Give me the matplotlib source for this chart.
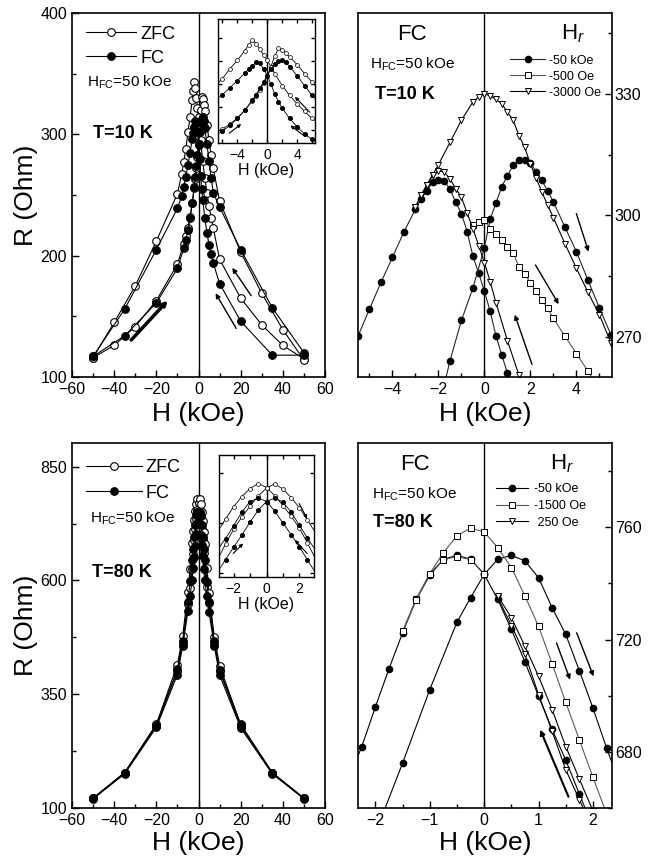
import matplotlib
matplotlib.use('Agg')
import matplotlib.pyplot as plt
from matplotlib.ticker import MultipleLocator, FixedLocator

plt.rcParams['font.family'] = ['Liberation Sans', 'DejaVu Sans']
plt.rcParams['mathtext.fontset'] = 'custom'
plt.rcParams['mathtext.rm'] = 'Liberation Sans'
plt.rcParams['mathtext.it'] = 'Liberation Sans:italic'
plt.rcParams['mathtext.bf'] = 'Liberation Sans:bold'

# ---- T = 10 K, full loops (H in kOe, R in Ohm) ----
h_zfc10_dn = [-50, -40, -30, -20, -10, -8, -7, -6, -5, -4, -3, -2.5, -2, -1.5, -1, -0.5, 0, 0.5, 1, 2, 3, 4, 5, 6, 7, 10, 20, 30, 40, 50]
r_zfc10_dn = [116, 145, 175, 212, 251, 267, 277, 288, 302, 314, 328, 336, 343, 338, 330, 322, 314, 305, 295, 278, 264, 252, 241, 231, 223, 197, 165, 143, 126, 115]
h_zfc10_up = [-50, -40, -30, -20, -10, -7, -6, -5, -4, -3, -2, -1.5, -1, -0.5, 0, 0.5, 1, 1.5, 2, 2.5, 3, 4, 5, 6, 7, 10, 20, 30, 40, 50]
r_zfc10_up = [116, 126, 141.5, 163, 193, 210, 216, 223, 232, 243, 256, 263, 272, 281, 291, 305, 320, 331, 329, 324, 319, 308, 295, 283, 272, 245, 203, 169, 139, 114]
h_fc10_dn = [-50, -35, -20, -10, -8, -7, -6, -5, -4, -3, -2.5, -2, -1.5, -1, -0.5, 0, 0.5, 1, 1.5, 2, 3, 4, 5, 6, 7, 10, 20, 35, 50]
r_fc10_dn = [117, 156, 205, 239, 249, 257, 265, 275, 285, 296, 301, 306, 311, 310, 302, 292, 280, 266, 255, 246, 231, 219, 209, 201, 194, 177, 146, 118, 118]
h_fc10_up = [-50, -35, -20, -10, -7, -6, -5, -4, -3, -2, -1.5, -1, -0.5, 0, 0.5, 1, 1.5, 2, 2.5, 3, 4, 5, 6, 7, 10, 20, 35, 50]
r_fc10_up = [117, 134, 161, 189.5, 206, 213, 221, 231, 243, 257, 265, 274, 283, 292, 302, 309, 313, 314, 311, 305, 292, 278, 264, 252, 240, 205, 157, 120]

# ---- T = 10 K, FC minor loops for different reversal fields Hr ----
h_m50k_dn = [1.25, 1.0, 0.75, 0.5, 0.25, 0, -0.25, -0.5, -0.75, -1.0, -1.25, -1.5, -1.75, -2.0, -2.25, -2.5, -2.75, -3.0, -3.5, -4.0, -4.5, -5.0, -5.5]
r_m50k_dn = [255.5, 261, 265.5, 270.2, 276.2, 281.2, 285.7, 289.8, 295.9, 300.4, 303.2, 306.5, 308.4, 308.8, 308.2, 306.1, 304, 301.5, 295.9, 289.6, 283.4, 276.8, 270.1]
h_m50k_up = [-2.0, -1.5, -1.0, -0.5, 0, 0.25, 0.5, 0.75, 1.0, 1.25, 1.5, 1.75, 2.0, 2.25, 2.5, 2.75, 3.0, 3.5, 4.0, 4.5, 5.0, 5.5]
r_m50k_up = [252, 264, 274, 282, 292, 299, 303, 307, 309.8, 312.3, 313.7, 313.7, 313, 310.7, 308.6, 306, 303.3, 297.1, 291, 284, 277.1, 270.5]
h_m500_up = [-0.5, -0.25, 0, 0.25, 0.5, 0.75, 1.0, 1.25, 1.5, 1.75, 2.0, 2.25, 2.5, 2.75, 3.0, 3.5, 4.0, 4.5, 5.0]
r_m500_up = [297.5, 298.4, 298.8, 296.7, 295.3, 293.9, 292.2, 290.6, 287.3, 285.5, 283.3, 281.2, 279, 277, 274.5, 270.1, 265.8, 261.5, 257]
h_m3k_dn = [2.0, 1.5, 1.0, 0.5, 0.25, 0, -0.25, -0.5, -0.75, -1.0, -1.25, -1.5, -1.75, -2.0, -2.25, -2.5, -2.75, -3.0]
r_m3k_dn = [251, 260.5, 269, 278.4, 283.6, 288.3, 292.5, 296.7, 300.5, 304.4, 306.6, 309, 310.7, 311, 310, 307.5, 305, 302]
h_m3k_up = [-3.0, -2.75, -2.5, -2.25, -2.0, -1.5, -1.0, -0.5, -0.25, 0, 0.25, 0.5, 0.75, 1.0, 1.25, 1.5, 1.75, 2.0, 2.25, 2.5, 2.75, 3.0, 3.5, 4.0, 4.5, 5.0, 5.5]
r_m3k_up = [302, 305, 307.5, 310, 312.5, 318, 323.5, 328, 329.3, 330, 329.5, 328.7, 327.6, 325.5, 323.5, 319.7, 316.8, 312.7, 309.2, 305.7, 302.5, 299.4, 293, 286.9, 281, 275.4, 268.5]

# ---- T = 80 K, full loops ----
h80 = [-50, -35, -20, -10, -7.5, -5, -4, -3, -2.5, -2, -1.5, -1, -0.5, 0, 0.5, 1, 1.5, 2, 2.5, 3, 4, 5, 7.5, 10, 20, 35, 50]
r_zfc80_dn = [121, 178, 284, 415, 478, 575, 625, 682, 708, 733, 753, 769, 779, 771, 755, 735, 714, 690, 660, 628, 585, 550, 462, 400, 280, 176, 120]
r_zfc80_up = [120, 176, 281, 401, 463, 548, 583, 626, 658, 688, 712, 734, 754, 770, 778, 768, 751, 731, 706, 680, 627, 572, 476, 413, 283, 177, 121]
r_fc80_dn = [122, 178, 283, 405, 468, 553, 598, 646, 669, 695, 722, 743, 750, 743, 724, 700, 677, 653, 626, 600, 565, 530, 455, 392, 276, 175, 121]
r_fc80_up = [121, 175, 277, 393, 456, 532, 566, 601, 627, 652, 676, 702, 726, 743, 750, 742, 722, 696, 670, 645, 597, 552, 467, 404, 284, 178, 122]

# ---- T = 80 K, FC minor loops ----
h_m50k80_dn = [2.0, 1.75, 1.5, 1.25, 1.0, 0.75, 0.5, 0.25, 0, -0.25, -0.5, -0.75, -1.0, -1.25, -1.5, -1.75, -2.0, -2.25, -2.5]
r_m50k80_dn = [653, 665, 677, 688, 699.8, 712, 723.6, 734.3, 743.2, 748.6, 750, 748.6, 742.9, 734.3, 722.4, 709.6, 696, 681.9, 670]
h_m50k80_up = [-2.0, -1.5, -1.0, -0.5, -0.25, 0, 0.25, 0.5, 0.75, 1.0, 1.25, 1.5, 1.75, 2.0, 2.25, 2.5]
r_m50k80_up = [651, 676, 702.2, 726.2, 734.9, 743.2, 748.6, 750, 748, 742, 731.3, 721.8, 708.9, 695.6, 681.4, 668]
h_m1500_dn = [0, -0.25, -0.5, -0.75, -1.0, -1.25, -1.5]
r_m1500_dn = [743.5, 748.5, 749.5, 748.5, 743.5, 734.5, 723]
h_m1500_up = [-1.5, -1.25, -1.0, -0.75, -0.5, -0.25, 0, 0.25, 0.5, 0.75, 1.0, 1.25, 1.5, 1.75, 2.0, 2.25, 2.5]
r_m1500_up = [723, 734, 743.5, 751, 756.9, 759.7, 758.3, 752.7, 745.6, 735.5, 724.7, 711.3, 697.6, 684.3, 670.9, 658, 645]
h_p250_dn = [2.0, 1.75, 1.5, 1.25, 1.0, 0.75, 0.5, 0.25]
r_p250_dn = [652, 663, 673.6, 687.3, 700.4, 714.7, 725, 735]
h_p250_up = [0.25, 0.5, 0.75, 1.0, 1.25, 1.5, 1.75, 2.0, 2.25]
r_p250_up = [735.5, 727.8, 717.6, 706.9, 695, 681.9, 670.3, 659, 647]

# sweep direction arrows, (tail, head) in data units
arrows_10k = [((25, 167), (16, 190)), ((17.9, 140), (8.1, 169))]
arrow_10k_thick = ((-31.9, 130.5), (-14.6, 163))
arrows_10k_inset = [((5.7, 240), (3.7, 262)), ((5.1, 205), (3.1, 221)), ((-5.1, 210), (-3.5, 223))]
arrows_10k_fc = [((4.0, 300.4), (4.53, 291.0)), ((2.22, 287.7), (3.23, 278.0)), ((2.07, 263.1), (1.32, 275.4))]
arrows_80k_inset = [((1.99, 739), (2.48, 709)), ((2.48, 639), (1.73, 666)), ((-2.03, 639), (-1.43, 659))]
arrows_80k_fc = [((1.70, 722.4), (2.01, 706.9)), ((1.33, 718.8), (1.58, 705.7)), ((1.55, 664), (1.03, 687.9))]

W, H = 650, 867


def rect(x0, y0, x1, y1):
    # pixel box -> figure fraction
    return [x0 / W, 1 - y1 / H, (x1 - x0) / W, (y1 - y0) / H]


def style(ax, fs=11.5, lw=1.2):
    ax.tick_params(which='both', direction='in', labelsize=fs, width=1.0)
    ax.tick_params(which='major', length=5)
    ax.tick_params(which='minor', length=3)
    for s in ax.spines.values():
        s.set_linewidth(lw)


def arrow(ax, a, lw=1.0, ms=7):
    ax.annotate('', xy=a[1], xytext=a[0],
                arrowprops=dict(arrowstyle='-|>', color='k', lw=lw, mutation_scale=ms,
                                shrinkA=0, shrinkB=0))


zfc = dict(marker='o', mfc='white', mec='k', color='k', lw=0.8, mew=0.8)
fc = dict(marker='o', mfc='k', mec='k', color='k', lw=0.8, mew=0.8)

fig = plt.figure(figsize=(6.5, 8.67), dpi=100)

# ================= panel 1: 10 K =================
ax1 = fig.add_axes(rect(72, 13, 325, 377))
ax1.plot(h_zfc10_dn, r_zfc10_dn, ms=5.5, label='ZFC', **zfc)
ax1.plot(h_zfc10_up, r_zfc10_up, ms=5.5, **zfc)
ax1.plot(h_fc10_dn, r_fc10_dn, ms=5.5, label='FC', **fc)
ax1.plot(h_fc10_up, r_fc10_up, ms=5.5, **fc)
ax1.axvline(0, color='k', lw=1.0, zorder=0)
ax1.set_xlim(-60, 60)
ax1.set_ylim(100, 400)
ax1.xaxis.set_major_locator(MultipleLocator(20))
ax1.xaxis.set_minor_locator(MultipleLocator(10))
ax1.yaxis.set_major_locator(MultipleLocator(100))
ax1.yaxis.set_minor_locator(MultipleLocator(50))
style(ax1)
for a in arrows_10k:
    arrow(ax1, a)
arrow(ax1, arrow_10k_thick, lw=2.5, ms=6)
ax1.set_xlabel('H (kOe)', fontsize=19, labelpad=4)
ax1.set_ylabel('R (Ohm)', fontsize=19, labelpad=2)
ax1.legend(loc='upper left', bbox_to_anchor=(0.055, 0.965), frameon=False, fontsize=13,
           handlelength=2.8, handletextpad=0.2, labelspacing=0.38, borderpad=0, borderaxespad=0)
ax1.text(0.059, 0.81, r'H$_{\mathrm{FC}}$=50 kOe', transform=ax1.transAxes, fontsize=11, va='center')
ax1.text(0.083, 0.668, 'T=10 K', transform=ax1.transAxes, fontsize=13, fontweight='bold', va='center')

# inset of panel 1
in1 = fig.add_axes(rect(218, 19, 315, 143))
in1.plot(h_zfc10_dn, r_zfc10_dn, ms=2.8, **dict(zfc, lw=0.6, mew=0.5))
in1.plot(h_zfc10_up, r_zfc10_up, ms=2.8, **dict(zfc, lw=0.6, mew=0.5))
in1.plot(h_fc10_dn, r_fc10_dn, ms=2.8, **dict(fc, lw=0.6))
in1.plot(h_fc10_up, r_fc10_up, ms=2.8, **dict(fc, lw=0.6))
in1.axvline(0, color='k', lw=1.0, zorder=0)
in1.set_xlim(-6.6, 6.4)
in1.set_ylim(196, 373)
in1.xaxis.set_major_locator(MultipleLocator(4))
in1.xaxis.set_minor_locator(MultipleLocator(2))
in1.yaxis.set_major_locator(FixedLocator([214, 247, 280, 313, 346]))
style(in1, fs=10, lw=1.0)
in1.tick_params(which='both', top=True, right=True, labelleft=False, length=3)
for a in arrows_10k_inset:
    arrow(in1, a, lw=0.8, ms=5)
in1.set_xlabel('H (kOe)', fontsize=11.5, labelpad=1)

# ================= panel 2: 10 K, FC minor loops =================
ax2 = fig.add_axes(rect(358, 13, 612, 377))
ax2.plot(h_m50k_dn, r_m50k_dn, marker='o', ms=4.5, mfc='k', mec='k', color='0.15', lw=0.8, label='-50 kOe')
ax2.plot(h_m50k_up, r_m50k_up, marker='o', ms=4.5, mfc='k', mec='k', color='0.15', lw=0.8)
ax2.plot(h_m500_up, r_m500_up, marker='s', ms=4.2, mfc='white', mec='k', mew=0.7, color='0.35', lw=0.8, label='-500 Oe')
ax2.plot(h_m3k_dn, r_m3k_dn, marker='v', ms=5, mfc='white', mec='k', mew=0.7, color='k', lw=0.8, label='-3000 Oe')
ax2.plot(h_m3k_up, r_m3k_up, marker='v', ms=5, mfc='white', mec='k', mew=0.7, color='k', lw=0.8)
ax2.axvline(0, color='k', lw=1.0, zorder=0)
ax2.set_xlim(-5.5, 5.55)
ax2.set_ylim(260, 350)
ax2.xaxis.set_major_locator(MultipleLocator(2))
ax2.xaxis.set_minor_locator(MultipleLocator(1))
ax2.yaxis.set_major_locator(MultipleLocator(30))
ax2.yaxis.set_minor_locator(MultipleLocator(15))
style(ax2)
ax2.tick_params(axis='y', which='both', left=False, right=True, labelleft=False, labelright=True, pad=2)
for a in arrows_10k_fc:
    arrow(ax2, a)
ax2.set_xlabel('H (kOe)', fontsize=19, labelpad=4)
ax2.legend(loc='upper left', bbox_to_anchor=(0.6, 0.885), frameon=False, fontsize=9,
           handlelength=2.8, handletextpad=0.25, labelspacing=0.32, borderpad=0, borderaxespad=0)
ax2.text(0.211, 0.942, 'FC', transform=ax2.transAxes, fontsize=16, va='center', ha='center')
ax2.text(0.8, 0.942, r'H$_{\mathit{r}}$', transform=ax2.transAxes, fontsize=16, va='center')
ax2.text(0.047, 0.86, r'H$_{\mathrm{FC}}$=50 kOe', transform=ax2.transAxes, fontsize=11, va='center')
ax2.text(0.067, 0.775, 'T=10 K', transform=ax2.transAxes, fontsize=13, fontweight='bold', va='center')

# ================= panel 3: 80 K =================
ax3 = fig.add_axes(rect(72, 443, 325, 808))
ax3.plot(h80, r_zfc80_dn, ms=5.5, label='ZFC', **zfc)
ax3.plot(h80, r_zfc80_up, ms=5.5, **zfc)
ax3.plot(h80, r_fc80_dn, ms=5.5, label='FC', **fc)
ax3.plot(h80, r_fc80_up, ms=5.5, **fc)
ax3.axvline(0, color='k', lw=1.0, zorder=0)
ax3.set_xlim(-60, 60)
ax3.set_ylim(100, 902)
ax3.xaxis.set_major_locator(MultipleLocator(20))
ax3.xaxis.set_minor_locator(MultipleLocator(10))
ax3.yaxis.set_major_locator(FixedLocator([100, 350, 600, 850]))
ax3.yaxis.set_minor_locator(FixedLocator([225, 475, 725]))
style(ax3)
ax3.set_xlabel('H (kOe)', fontsize=19, labelpad=2)
ax3.set_ylabel('R (Ohm)', fontsize=19, labelpad=2)
ax3.legend(loc='upper left', bbox_to_anchor=(0.055, 0.955), frameon=False, fontsize=13,
           handlelength=3.1, handletextpad=0.2, labelspacing=0.45, borderpad=0, borderaxespad=0)
ax3.text(0.071, 0.795, r'H$_{\mathrm{FC}}$=50 kOe', transform=ax3.transAxes, fontsize=11, va='center')
ax3.text(0.079, 0.644, 'T=80 K', transform=ax3.transAxes, fontsize=13, fontweight='bold', va='center')

# inset of panel 3
in3 = fig.add_axes(rect(219, 455, 314, 577))
in3.plot(h80, r_zfc80_dn, ms=2.8, **dict(zfc, lw=0.6, mew=0.5))
in3.plot(h80, r_zfc80_up, ms=2.8, **dict(zfc, lw=0.6, mew=0.5))
in3.plot(h80, r_fc80_dn, ms=2.8, **dict(fc, lw=0.6))
in3.plot(h80, r_fc80_up, ms=2.8, **dict(fc, lw=0.6))
in3.axvline(0, color='k', lw=1.0, zorder=0)
in3.set_xlim(-2.9, 2.9)
in3.set_ylim(592, 836)
in3.xaxis.set_major_locator(MultipleLocator(2))
in3.xaxis.set_minor_locator(MultipleLocator(1))
in3.yaxis.set_major_locator(MultipleLocator(100))
style(in3, fs=10, lw=1.0)
in3.tick_params(which='both', top=True, right=True, labelleft=False, length=3)
for a in arrows_80k_inset:
    arrow(in3, a, lw=0.8, ms=5)
in3.set_xlabel('H (kOe)', fontsize=11.5, labelpad=1)

# ================= panel 4: 80 K, FC minor loops =================
ax4 = fig.add_axes(rect(358, 443, 612, 808))
ax4.plot(h_m50k80_dn, r_m50k80_dn, marker='o', ms=4.5, mfc='k', mec='k', color='k', lw=0.8, label='-50 kOe')
ax4.plot(h_m50k80_up, r_m50k80_up, marker='o', ms=4.5, mfc='k', mec='k', color='k', lw=0.8)
ax4.plot(h_m1500_dn, r_m1500_dn, marker='s', ms=4.2, mfc='white', mec='k', mew=0.7, color='0.35', lw=0.8, label='-1500 Oe')
ax4.plot(h_m1500_up, r_m1500_up, marker='s', ms=4.2, mfc='white', mec='k', mew=0.7, color='0.35', lw=0.8)
ax4.plot(h_p250_dn, r_p250_dn, marker='v', ms=5, mfc='white', mec='k', mew=0.7, color='k', lw=0.8, label=' 250 Oe')
ax4.plot(h_p250_up, r_p250_up, marker='v', ms=5, mfc='white', mec='k', mew=0.7, color='k', lw=0.8)
ax4.axvline(0, color='k', lw=1.0, zorder=0)
ax4.set_xlim(-2.32, 2.35)
ax4.set_ylim(660, 790)
ax4.xaxis.set_major_locator(MultipleLocator(1))
ax4.xaxis.set_minor_locator(MultipleLocator(0.5))
ax4.yaxis.set_major_locator(MultipleLocator(40))
ax4.yaxis.set_minor_locator(MultipleLocator(20))
style(ax4)
ax4.tick_params(axis='y', which='both', left=False, right=True, labelleft=False, labelright=True, pad=2)
for a in arrows_80k_fc[:2]:
    arrow(ax4, a)
arrow(ax4, arrows_80k_fc[2], lw=1.5, ms=7)
ax4.set_xlabel('H (kOe)', fontsize=19, labelpad=2)
ax4.legend(loc='upper left', bbox_to_anchor=(0.545, 0.89), frameon=False, fontsize=9,
           handlelength=2.5, handletextpad=0.5, labelspacing=0.38, borderpad=0, borderaxespad=0)
ax4.text(0.224, 0.942, 'FC', transform=ax4.transAxes, fontsize=16, va='center', ha='center')
ax4.text(0.756, 0.942, r'H$_{\mathit{r}}$', transform=ax4.transAxes, fontsize=16, va='center')
ax4.text(0.054, 0.86, r'H$_{\mathrm{FC}}$=50 kOe', transform=ax4.transAxes, fontsize=11, va='center')
ax4.text(0.06, 0.783, 'T=80 K', transform=ax4.transAxes, fontsize=13, fontweight='bold', va='center')

fig.savefig('out.png', dpi=100)
